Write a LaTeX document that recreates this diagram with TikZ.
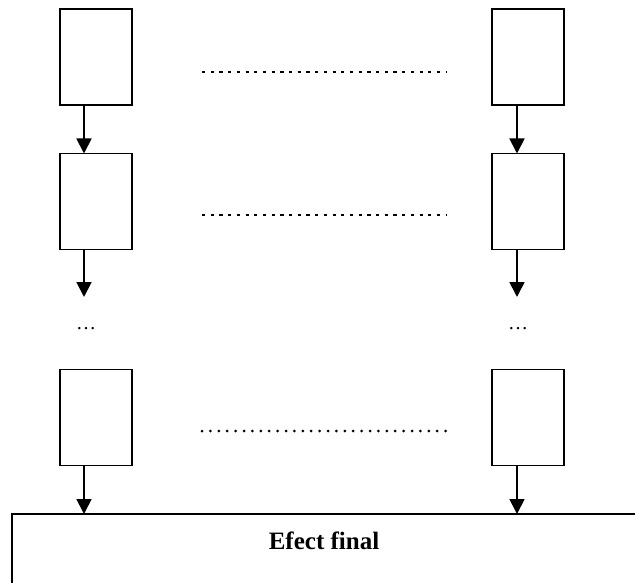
\documentclass[tikz,border=0pt]{standalone}
\usepackage{fontspec}
\setmainfont{Liberation Serif}
\usetikzlibrary{arrows.meta}
\begin{document}
\begin{tikzpicture}[x=1pt,y=-1pt,
 blk/.style={draw,line width=1.8pt,minimum width=72pt,minimum height=96pt,inner sep=0pt,outer sep=0pt},
 arr/.style={line width=1.8pt,-{Triangle[width=15pt,length=15pt]}},
 dashln/.style={line width=1.1pt,dash pattern=on 3.2pt off 5.5pt},
 dotln/.style={line width=3pt,line cap=round,dash pattern=on 0pt off 8.4pt},
 ell/.style={font=\fontsize{20}{24}\selectfont,inner sep=0pt}]
\useasboundingbox (0,0) rectangle (635,583);
% boxes
\node[blk] (L1) at (96,57) {};
\node[blk] (L2) at (96,201.5) {};
\node[blk] (L3) at (96,417.5) {};
\node[blk] (R1) at (528,57) {};
\node[blk] (R2) at (528,201.5) {};
\node[blk] (R3) at (528,417.5) {};
% final box
\coordinate (FBL) at (12,600);
\coordinate (FTL) at (12,514);
\coordinate (FTR) at (645,514);
\draw[line width=1.8pt] (FBL) -- (FTL) -- (FTR);
\node[font=\fontsize{25}{30}\selectfont\bfseries,anchor=base] (final) at (324,549) {Efect final};
% ellipses
\coordinate (LE) at (84,297);
\coordinate (RE) at (517,297);
\node[ell] (Ldots) at (86,329) {…};
\node[ell] (Rdots) at (518,329) {…};
% arrows
\draw[arr] ([xshift=-12pt]L1.south) -- ([xshift=-12pt]L2.north);
\draw[arr] ([xshift=-11pt]R1.south) -- ([xshift=-11pt]R2.north);
\draw[arr] ([xshift=-12pt]L2.south) -- (LE);
\draw[arr] ([xshift=-11pt]R2.south) -- (RE);
\draw[arr] ([xshift=-12pt]L3.south) -- ([xshift=-12pt]L3.south |- FTL);
\draw[arr] ([xshift=-11pt]R3.south) -- ([xshift=-11pt]R3.south |- FTL);
% dotted lines
\coordinate (d1a) at (202,72); \coordinate (d1b) at (446,72);
\coordinate (d2a) at (202,215); \coordinate (d2b) at (446,215);
\coordinate (d3a) at (202,431); \coordinate (d3b) at (446,431);
\draw[dashln] (d1a) -- (d1b);
\draw[dashln] (d2a) -- (d2b);
\draw[dotln] (d3a) -- (d3b);
\end{tikzpicture}
\end{document}
